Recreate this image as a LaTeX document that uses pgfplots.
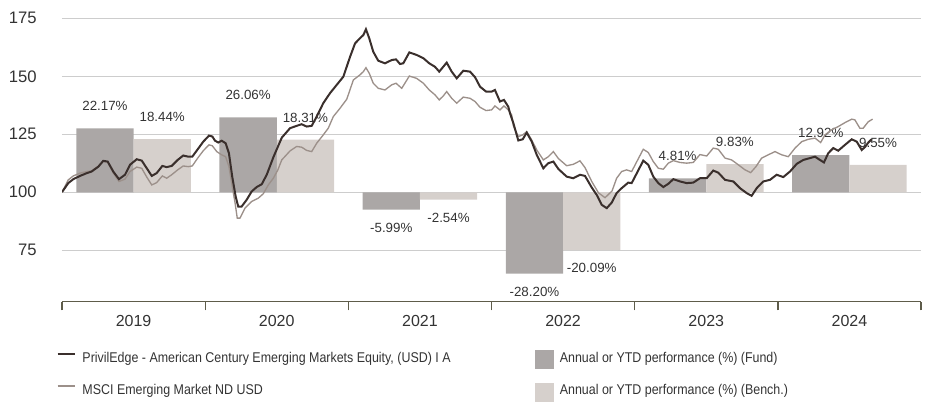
\documentclass[border=0pt]{standalone}
\usepackage{fontspec}
\setmainfont{Liberation Sans}
\newfontfamily\legendfont{Liberation Sans}[FakeStretch=0.88]
\usepackage{pgfplots}
\pgfplotsset{compat=1.18}
\definecolor{fundc}{HTML}{3A2F2C}
\definecolor{benchc}{HTML}{9C908A}
\definecolor{fundbar}{HTML}{ABA7A6}
\definecolor{benchbar}{HTML}{D6D0CC}
\definecolor{gridc}{HTML}{CDCDCD}
\definecolor{axisc}{HTML}{5E5C4A}
\definecolor{textc}{HTML}{333333}
\pgfplotsset{
  base/.style={
    scale only axis, width=644.25pt, height=212.55pt,
    at={(0pt,0pt)}, anchor=south west,
    xmin=0, xmax=6,
  },
  pctlabel/.style={
    point meta=y,
    nodes near coords={\pgfmathprintnumber[fixed, fixed zerofill, precision=2, assume math mode=true]{\pgfplotspointmeta}\%},
    nodes near coords align=vertical,
    every node near coord/.append style={font=\fontsize{10}{12}\selectfont, text=textc, inner sep=11.4pt, yshift=1.5pt},
  },
}
\begin{document}
\begin{tikzpicture}
% axis 1: grid, ticks, labels
\begin{axis}[base,
  ymin=52.7, ymax=175,
  ytick={75,100,125,150,175},
  ymajorgrids, grid style={gridc, line width=0.8pt},
  axis x line*=bottom, axis y line*=left,
  y axis line style={draw=none}, ytick style={draw=none},
  x axis line style={axisc, line width=1pt},
  xtick={0,1,2,3,4,5,6},
  xticklabels={2019,2020,2021,2022,2023,2024},
  x tick label as interval,
  xtick style={draw=axisc, line width=1pt},
  major tick length=6.5pt, tick align=outside,
  /pgf/number format/assume math mode=true,
  yticklabel style={font=\fontsize{12.5}{14}\selectfont, text=textc, xshift=-9pt},
  xticklabel style={font=\fontsize{12}{14}\selectfont, text=textc, yshift=0pt},
]
\addplot[draw=none, forget plot] coordinates {(0,100) (6,100)};
\end{axis}
% axis 2: bars
\begin{axis}[base, hide axis, clip=false,
  ymin=-37.99, ymax=60.42]
\addplot[ybar, bar width=0.4, bar shift=0pt, fill=fundbar, draw=none, pctlabel]
  coordinates {(0.3,22.17) (1.3,26.06) (2.3,-5.99) (3.3,-28.20) (4.3,4.81) (5.3,12.92)};
\addplot[ybar, bar width=0.4, bar shift=0pt, fill=benchbar, draw=none, pctlabel]
  coordinates {(0.7,18.44) (1.7,18.31) (2.7,-2.54) (3.7,-20.09) (4.7,9.83) (5.7,9.55)};
\end{axis}
% axis 3: lines and legend
\begin{axis}[base, hide axis,
  ymin=52.7, ymax=175,
  legend columns=2, legend cell align=left,
  legend style={at={(-0.0062,-0.172)}, anchor=north west, draw=none, fill=none,
    inner sep=0pt, outer sep=0pt,
    font=\legendfont\fontsize{10.6}{12}\selectfont, text=textc,
    column sep=5pt, row sep=10.25pt,
    nodes={inner sep=0pt, text height=8pt, text depth=2.5pt},
    /tikz/every even column/.append style={column sep=63pt}},
]
\addplot[benchc, line width=1pt, forget plot] coordinates {
(0,100) (0.044,105.3) (0.079,107.0) (0.126,108.2) (0.173,108.9) (0.207,109.2) (0.254,111.3) (0.288,113.2) (0.319,112.8) (0.358,108.2) (0.398,104.6) (0.440,105.6) (0.475,108.9) (0.522,110.8) (0.557,110.3) (0.592,106.5) (0.627,103.1) (0.661,104.1) (0.701,107.0) (0.731,106.0) (0.766,107.5) (0.808,109.6) (0.847,111.3) (0.882,111.0) (0.910,111.3) (0.948,114.7) (0.987,117.9) (1.027,120.4) (1.050,120.0) (1.081,117.5) (1.115,116.1) (1.143,115.3) (1.166,111.0) (1.189,102.4) (1.209,95.3) (1.224,88.8) (1.243,88.8) (1.278,93.1) (1.325,96.0) (1.371,97.4) (1.406,99.3) (1.441,103.1) (1.476,106.0) (1.507,109.5) (1.535,113.9) (1.593,117.8) (1.639,119.7) (1.674,119.4) (1.709,118.0) (1.744,117.5) (1.779,121.1) (1.825,124.7) (1.860,127.6) (1.895,132.6) (1.942,136.2) (1.989,140.1) (2.035,148.4) (2.081,150.6) (2.105,152.0) (2.123,153.7) (2.146,151.3) (2.174,147.0) (2.209,144.8) (2.256,144.1) (2.303,146.3) (2.333,147.0) (2.373,144.8) (2.426,150.1) (2.477,149.1) (2.524,147.0) (2.565,144.1) (2.605,142.0) (2.635,139.8) (2.663,141.5) (2.687,143.4) (2.722,140.5) (2.757,138.4) (2.803,141.0) (2.850,140.5) (2.885,139.1) (2.920,136.6) (2.962,135.2) (3.001,135.5) (3.024,137.2) (3.059,135.5) (3.087,137.2) (3.117,135.5) (3.141,133.3) (3.153,128.6) (3.187,124.0) (3.218,124.7) (3.246,126.1) (3.281,122.5) (3.316,118.2) (3.362,113.9) (3.397,115.3) (3.432,117.5) (3.467,114.5) (3.525,111.4) (3.571,112.0) (3.618,113.5) (3.653,110.6) (3.700,104.6) (3.747,99.7) (3.793,97.6) (3.842,100.5) (3.874,106.0) (3.909,108.9) (3.944,109.6) (3.979,108.9) (4.021,113.9) (4.060,118.5) (4.095,117.1) (4.130,113.2) (4.165,110.3) (4.200,109.9) (4.235,112.5) (4.270,113.6) (4.317,112.8) (4.363,112.5) (4.409,112.8) (4.456,116.2) (4.503,115.6) (4.549,119.0) (4.584,118.5) (4.631,114.7) (4.677,113.9) (4.724,111.8) (4.771,109.6) (4.810,108.4) (4.847,111.0) (4.887,114.7) (4.933,116.1) (4.980,117.5) (5.027,116.1) (5.073,115.3) (5.120,119.0) (5.167,121.8) (5.213,122.8) (5.260,123.3) (5.299,121.4) (5.329,124.7) (5.376,126.9) (5.422,128.3) (5.469,130.0) (5.516,131.5) (5.538,131.2) (5.573,127.6) (5.596,127.6) (5.632,130.4) (5.662,131.5)
};
\addplot[fundc, line width=1.5pt, forget plot] coordinates {
(0,100) (0.044,103.9) (0.079,105.6) (0.126,107.0) (0.173,108.2) (0.207,108.9) (0.254,111.0) (0.288,113.5) (0.319,113.2) (0.358,108.9) (0.398,105.6) (0.440,107.5) (0.475,111.8) (0.522,114.2) (0.557,113.6) (0.592,110.3) (0.627,107.0) (0.661,108.2) (0.701,111.3) (0.731,110.8) (0.766,111.3) (0.808,113.9) (0.847,115.8) (0.882,115.3) (0.910,115.3) (0.948,118.5) (0.987,121.8) (1.027,124.4) (1.050,124.0) (1.069,122.2) (1.092,121.4) (1.115,122.2) (1.143,121.1) (1.166,116.8) (1.189,106.7) (1.213,98.1) (1.231,93.8) (1.255,93.8) (1.290,96.7) (1.325,100.3) (1.360,102.2) (1.395,103.4) (1.430,107.5) (1.476,115.0) (1.535,123.5) (1.593,127.6) (1.639,128.6) (1.674,129.3) (1.709,128.3) (1.744,128.6) (1.779,132.6) (1.825,138.4) (1.872,142.7) (1.919,146.3) (1.965,149.8) (2.012,158.4) (2.047,164.2) (2.081,166.4) (2.105,167.8) (2.123,170.3) (2.146,166.4) (2.174,160.6) (2.209,156.7) (2.256,155.6) (2.303,157.0) (2.333,157.3) (2.361,155.3) (2.384,155.6) (2.426,160.3) (2.477,159.2) (2.524,157.8) (2.565,155.6) (2.605,154.1) (2.635,152.0) (2.663,154.1) (2.687,155.9) (2.722,152.0) (2.757,149.1) (2.803,152.4) (2.850,152.0) (2.885,149.6) (2.920,145.5) (2.962,143.4) (3.001,143.4) (3.024,144.1) (3.059,139.1) (3.087,139.8) (3.117,136.9) (3.129,134.1) (3.153,129.7) (3.187,122.3) (3.218,122.8) (3.246,125.7) (3.281,121.8) (3.316,116.1) (3.362,110.3) (3.397,112.5) (3.432,113.2) (3.467,110.0) (3.525,106.7) (3.571,106.0) (3.618,107.5) (3.653,107.0) (3.700,102.0) (3.735,98.8) (3.770,94.5) (3.805,93.1) (3.840,95.5) (3.874,99.6) (3.909,101.7) (3.955,104.1) (3.979,103.9) (4.021,108.9) (4.060,113.6) (4.095,111.8) (4.130,106.7) (4.165,103.9) (4.200,102.2) (4.235,103.6) (4.270,105.6) (4.317,104.6) (4.363,103.9) (4.409,104.1) (4.456,106.0) (4.503,106.0) (4.549,109.3) (4.584,108.4) (4.631,105.3) (4.689,104.6) (4.736,101.7) (4.782,99.6) (4.817,98.4) (4.852,101.7) (4.898,104.6) (4.945,105.3) (4.992,107.5) (5.038,106.5) (5.085,108.9) (5.132,112.2) (5.178,113.9) (5.225,114.7) (5.260,115.3) (5.294,113.9) (5.322,112.8) (5.352,116.8) (5.387,119.0) (5.422,117.9) (5.469,120.4) (5.516,122.8) (5.551,121.8) (5.586,118.2) (5.608,119.4) (5.632,121.4) (5.655,122.8)
};
\addlegendimage{legend image code/.code={\draw[fundc, line width=1.6pt] (0pt,3.5pt) -- (12.75pt,3.5pt);}}
\addlegendentry{PrivilEdge - American Century Emerging Markets Equity, (USD) I A}
\addlegendimage{legend image code/.code={\fill[fundbar] (0pt,-7.5pt) rectangle (13.5pt,6pt);}}
\addlegendentry{Annual or YTD performance (\%) (Fund)}
\addlegendimage{legend image code/.code={\draw[benchc, line width=1.6pt] (0pt,3.5pt) -- (12.75pt,3.5pt);}}
\addlegendentry{MSCI Emerging Market ND USD}
\addlegendimage{legend image code/.code={\fill[benchbar] (0pt,-7.5pt) rectangle (13.5pt,6pt);}}
\addlegendentry{Annual or YTD performance (\%) (Bench.)}
\end{axis}
\pgfresetboundingbox
\path[use as bounding box] (-46.5pt,-74.5pt) rectangle (648.75pt,226.3pt);
\end{tikzpicture}
\end{document}
